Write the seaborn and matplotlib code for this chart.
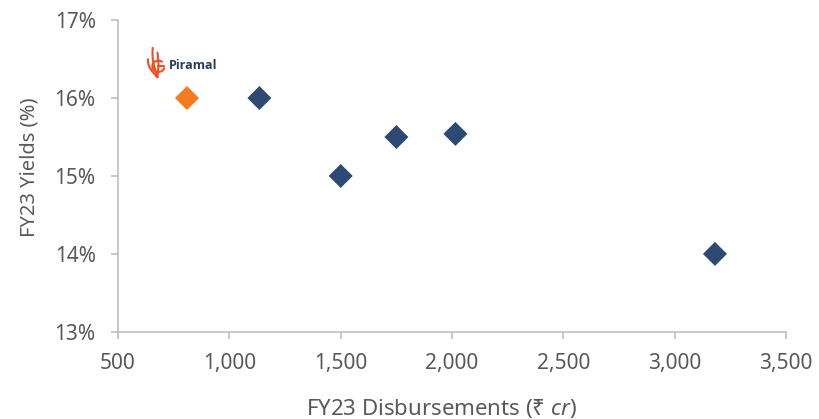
import matplotlib
matplotlib.use("Agg")
import matplotlib.pyplot as plt
from matplotlib.ticker import FuncFormatter
import numpy as np
import pandas as pd
import seaborn as sns

# FY23 disbursements (₹ cr) and yields (%) for the peer set
lenders = ["Piramal", "Peer A", "Peer B", "Peer C", "Peer D", "Peer E"]
disbursements = [810, 1135, 1500, 1750, 2015, 3180]
yields = [16.0, 16.0, 15.0, 15.5, 15.54, 14.0]
groups = ["Piramal", "Peer", "Peer", "Peer", "Peer", "Peer"]

x_ticks = [500, 1000, 1500, 2000, 2500, 3000, 3500]
y_ticks = [13, 14, 15, 16, 17]

df = pd.DataFrame({"lender": lenders, "disb": disbursements,
                   "yield": yields, "group": groups})

sns.set_theme(style="white")
plt.rcParams["font.family"] = ["Noto Sans", "DejaVu Sans"]
plt.rcParams["mathtext.fontset"] = "custom"
plt.rcParams["mathtext.it"] = "Noto Sans:italic"
plt.rcParams["mathtext.rm"] = "Noto Sans"

text_color = "#595959"
axis_color = "#BFBFBF"
palette = {"Piramal": "#F47B20", "Peer": "#2F4A72"}

fig = plt.figure(figsize=(8.19, 4.19), dpi=100)
ax = fig.add_axes([0.144, 0.208, 0.816, 0.744])

sns.scatterplot(data=df, x="disb", y="yield", hue="group", palette=palette,
                marker="D", s=150, linewidth=0, legend=False, ax=ax, zorder=3)

ax.set_xlim(500, 3500)
ax.set_ylim(13, 17)
ax.set_xticks(x_ticks)
ax.set_yticks(y_ticks)
ax.xaxis.set_major_formatter(FuncFormatter(lambda v, p: f"{int(v):,}"))
ax.yaxis.set_major_formatter(FuncFormatter(lambda v, p: f"{int(round(v))}%"))

for side in ["top", "right"]:
    ax.spines[side].set_visible(False)
for side in ["left", "bottom"]:
    ax.spines[side].set_color(axis_color)
    ax.spines[side].set_linewidth(1.2)

ax.tick_params(axis="both", which="major", direction="out", length=5,
               width=1.2, color=axis_color, labelcolor=text_color,
               labelsize=15, left=True, bottom=True)
ax.tick_params(axis="x", pad=10)
ax.tick_params(axis="y", pad=11)

ax.set_xlabel("FY23 Disbursements (₹ $\\it{cr}$)", fontsize=16,
              color=text_color)
ax.set_ylabel("FY23 Yields (%)", fontsize=14.5, color=text_color)
ax.xaxis.set_label_coords(0.4835, -0.245, transform=ax.transAxes)
ax.yaxis.set_label_coords(-0.132, 0.527, transform=ax.transAxes)
ax.xaxis.label.set_va("center")
ax.yaxis.label.set_va("center")

# Piramal brand mark next to its point
ax.text(727, 16.42, "Piramal", fontsize=9, fontweight="bold",
        family=["Open Sans", "DejaVu Sans"],
        color="#2A3B55", va="center", ha="left", zorder=4)

logo = fig.add_axes([147 / 819, 1 - 78 / 419, 19 / 819, 32 / 419])
logo.set_xlim(0, 1)
logo.set_ylim(0, 1.7)
logo.axis("off")
flame = "#F04E23"
t = np.linspace(0, 1, 40)
# fanned strokes rising from the base
for x_end, y_end, bend in [(0.05, 1.0, -0.15), (0.3, 1.6, -0.1), (0.55, 1.35, 0.05)]:
    xs = 0.55 + (x_end - 0.55) * t + bend * np.sin(np.pi * t)
    ys = 0.02 + (y_end - 0.02) * t ** 0.9
    logo.plot(xs, ys, color=flame, lw=1.5, solid_capstyle="round")
# curled inner stroke
a = np.linspace(0.3 * np.pi, 1.9 * np.pi, 50)
logo.plot(0.6 + 0.32 * np.cos(a), 0.62 + 0.3 * np.sin(a), color=flame, lw=1.5)
logo.plot([0.6, 0.92], [0.62, 0.62], color=flame, lw=1.5)

fig.savefig("out.png", dpi=100)
